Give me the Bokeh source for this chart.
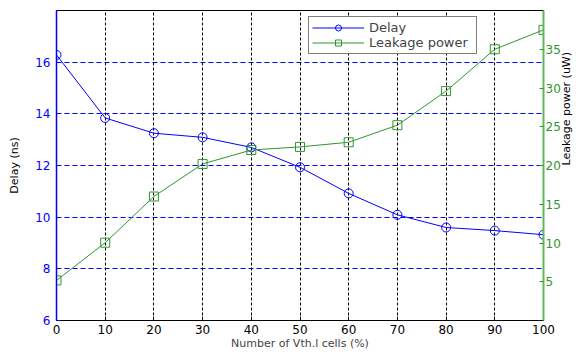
import math
from bokeh.plotting import figure
from bokeh.models import Range1d, LinearAxis, FixedTicker, Legend, LegendItem
from bokeh.embed import file_html
from bokeh.resources import INLINE

# data
cells_pct = [0, 10, 20, 30, 40, 50, 60, 70, 80, 90, 100]
delay_ns = [16.28, 13.84, 13.25, 13.09, 12.70, 11.93, 10.92, 10.09, 9.60, 9.48, 9.32]
leakage_uw = [5.17, 10.04, 16.0, 20.2, 22.0, 22.4, 23.0, 25.2, 29.6, 35.0, 37.5]
x_ticks = [0, 10, 20, 30, 40, 50, 60, 70, 80, 90, 100]
left_ticks = [6, 8, 10, 12, 14, 16]
right_ticks = [5, 10, 15, 20, 25, 30, 35]

BLUE = "#0000ff"
GREEN = "#2f962f"
GREEN_AX = "#5cb85c"
FONT = "DejaVu Sans"

p = figure(width=582, height=352, x_range=Range1d(0, 100), y_range=Range1d(6, 18),
           output_backend="svg", toolbar_location=None,
           min_border_left=56, min_border_right=38, min_border_top=10, min_border_bottom=32)
p.background_fill_color = "white"
p.border_fill_color = "white"
p.outline_line_color = "black"
p.outline_line_width = 1

# grids
p.xgrid.ticker = FixedTicker(ticks=x_ticks)
p.xgrid.grid_line_color = "black"
p.xgrid.grid_line_dash = "3 2"
p.xgrid.grid_line_width = 1
p.ygrid.ticker = FixedTicker(ticks=left_ticks)
p.ygrid.grid_line_color = BLUE
p.ygrid.grid_line_dash = "5 3"
p.ygrid.grid_line_width = 1

# bottom axis
xa = p.xaxis[0]
xa.ticker = FixedTicker(ticks=x_ticks)
xa.axis_label = "Number of Vth.l cells (%)"
xa.axis_line_color = "black"
xa.major_tick_line_color = "black"
xa.major_tick_in = 4
xa.major_tick_out = 0
xa.minor_tick_line_color = None
xa.major_label_text_color = "black"
xa.major_label_text_font = FONT
xa.major_label_text_font_size = "12px"
xa.major_label_standoff = 4
xa.axis_label_text_font = FONT
xa.axis_label_text_font_size = "11px"
xa.axis_label_text_font_style = "normal"
xa.axis_label_standoff = 0

# left axis
ya = p.yaxis[0]
ya.ticker = FixedTicker(ticks=left_ticks)
ya.axis_label = "Delay (ns)"
ya.axis_line_color = BLUE
ya.axis_line_width = 1.5
ya.major_tick_line_color = BLUE
ya.major_tick_in = 4
ya.major_tick_out = 0
ya.minor_tick_line_color = None
ya.major_label_text_color = BLUE
ya.major_label_text_font = FONT
ya.major_label_text_font_size = "12px"
ya.major_label_standoff = 6
ya.axis_label_text_font = FONT
ya.axis_label_text_font_size = "11px"
ya.axis_label_text_font_style = "normal"
ya.axis_label_text_color = "black"
ya.axis_label_standoff = 11

# right axis
p.extra_y_ranges = {"leak": Range1d(0, 40)}
ra = LinearAxis(y_range_name="leak", ticker=FixedTicker(ticks=right_ticks))
ra.axis_label = "Leakage power (uW)"
ra.axis_label_orientation = math.pi / 2
ra.axis_line_color = GREEN_AX
ra.axis_line_width = 2
ra.major_tick_line_color = GREEN
ra.major_tick_in = 4
ra.major_tick_out = 0
ra.minor_tick_line_color = None
ra.major_label_text_color = GREEN
ra.major_label_text_font = FONT
ra.major_label_text_font_size = "12px"
ra.major_label_standoff = 2
ra.axis_label_text_font = FONT
ra.axis_label_text_font_size = "11px"
ra.axis_label_text_font_style = "normal"
ra.axis_label_text_color = "black"
ra.axis_label_standoff = 3
p.add_layout(ra, "right")

# series
l1 = p.line(cells_pct, delay_ns, line_color=BLUE, line_width=1)
s1 = p.scatter(cells_pct, delay_ns, marker="circle", size=9, line_color=BLUE,
               fill_color=None, line_width=1)
l2 = p.line(cells_pct, leakage_uw, line_color=GREEN, line_width=1, y_range_name="leak")
s2 = p.scatter(cells_pct, leakage_uw, marker="square", size=9, line_color=GREEN,
               fill_color=None, line_width=1, y_range_name="leak")

legend = Legend(items=[LegendItem(label="Delay", renderers=[l1, s1]),
                       LegendItem(label="Leakage power", renderers=[l2, s2])],
                location=(252, 266))
legend.border_line_color = "black"
legend.border_line_width = 1
legend.background_fill_color = "white"
legend.background_fill_alpha = 1
legend.label_text_font = FONT
legend.label_text_font_size = "13px"
legend.glyph_width = 52
legend.glyph_height = 15
legend.label_height = 15
legend.label_width = 104
legend.label_standoff = 5
legend.padding = 3
legend.spacing = 0
legend.margin = 0
p.add_layout(legend, "center")

open("out.html", "w").write(file_html(p, INLINE))
